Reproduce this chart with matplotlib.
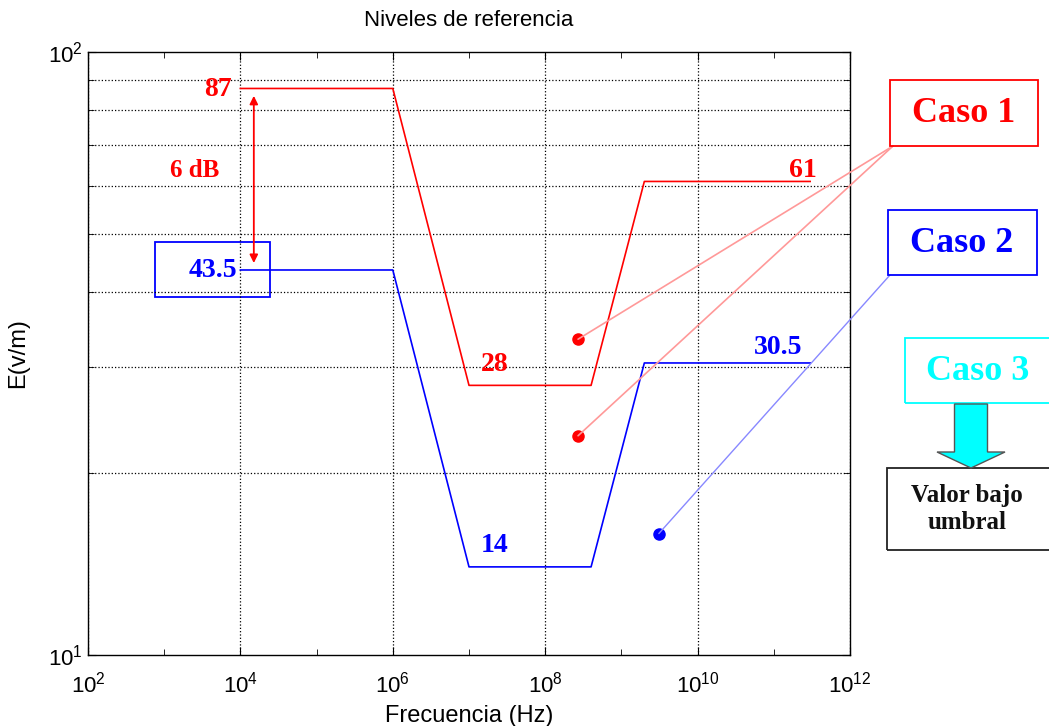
import matplotlib
matplotlib.use("Agg")
import matplotlib.pyplot as plt
from matplotlib.patches import Rectangle, FancyArrow
import matplotlib.ticker as mticker

plt.rcParams["font.family"] = ["Liberation Sans", "DejaVu Sans"]
plt.rcParams["mathtext.fontset"] = "custom"
plt.rcParams["mathtext.rm"] = "Liberation Sans"
plt.rcParams["mathtext.it"] = "Liberation Sans"

# Data
freq = [1e4, 1e6, 1e7, 4e8, 2e9, 3e11]
caso1_level = [87, 87, 28, 28, 61, 61]
caso2_level = [43.5, 43.5, 14, 14, 30.5, 30.5]
red_pts_x = [2.7e8, 2.7e8]
red_pts_y = [33.4, 23.1]
blue_pts_x = [3.1e9]
blue_pts_y = [15.9]
label_texts = ["87", "6 dB", "43.5", "28", "14", "30.5", "61"]

W, H = 1049, 726
fig = plt.figure(figsize=(W / 100, H / 100), dpi=100)
ax = fig.add_axes([88 / W, (H - 655) / H, (850 - 88) / W, (655 - 52) / H])

ax.plot(freq, caso1_level, color="red", lw=1.2)
ax.plot(freq, caso2_level, color="blue", lw=1.2)
ax.plot(red_pts_x, red_pts_y, "o", color="red", ms=8)
ax.plot(blue_pts_x, blue_pts_y, "o", color="blue", ms=8)

ax.set_xscale("log")
ax.set_yscale("log")
ax.set_xlim(1e2, 1e12)
ax.set_ylim(10, 100)
ax.set_xticks([10.0 ** k for k in range(2, 13, 2)])
ax.set_xticklabels([r"$10^{%d}$" % k for k in range(2, 13, 2)])
ax.set_xticks([10.0 ** k for k in range(3, 12, 2)], minor=True)
ax.xaxis.set_minor_formatter(mticker.NullFormatter())
ax.set_yticks([10, 100])
ax.set_yticklabels([r"$10^{1}$", r"$10^{2}$"])
ax.set_yticks([20, 30, 40, 50, 60, 70, 80, 90], minor=True)
ax.yaxis.set_minor_formatter(mticker.NullFormatter())
ax.tick_params(which="both", direction="in", top=True, right=True, labelsize=16, colors="black")
ax.tick_params(axis="x", which="major", pad=12)
ax.tick_params(which="major", length=6)
ax.tick_params(which="minor", length=4)
ax.grid(True, axis="x", which="major", color="black", linestyle=":", lw=0.9)
ax.grid(True, axis="y", which="minor", color="black", linestyle=":", lw=0.9)
for s in ax.spines.values():
    s.set_linewidth(1.0)

ax.set_title("Niveles de referencia", fontsize=16, pad=19)
ax.set_xlabel("Frecuencia (Hz)", fontsize=17, labelpad=5)
ax.set_ylabel("E(v/m)", fontsize=17, labelpad=14)

serif = dict(family="Liberation Serif", weight="bold")
ax.text(7.8e3, 86.5, label_texts[0], color="red", fontsize=20, ha="right", va="center", **serif)
ax.text(2.5e3, 63.5, label_texts[1], color="red", fontsize=18, ha="center", va="center", **serif)
ax.text(4.3e3, 43.4, label_texts[2], color="blue", fontsize=20, ha="center", va="center", **serif)
ax.text(2.2e7, 30.3, label_texts[3], color="red", fontsize=20, ha="center", va="center", **serif)
ax.text(2.2e7, 15.2, label_texts[4], color="blue", fontsize=20, ha="center", va="center", **serif)
ax.text(1.15e11, 32.3, label_texts[5], color="blue", fontsize=20, ha="center", va="center", **serif)
ax.text(2.4e11, 63.7, label_texts[6], color="red", fontsize=20, ha="center", va="center", **serif)

# box around 43.5
ax.add_patch(Rectangle((10 ** 2.88, 39.3), 10 ** 4.39 - 10 ** 2.88, 48.4 - 39.3,
                       fill=False, edgecolor="blue", lw=1.3, clip_on=False))

# 6 dB arrow
ax.annotate("", xy=(1.5e4, 85.5), xytext=(1.5e4, 44.2),
            arrowprops=dict(arrowstyle="<|-|>", color="red", lw=1.3, mutation_scale=12))

# right-hand boxes (figure pixels)
def fig_box(x0, y0, x1, y1, color, lw=1.3):
    fig.patches.append(Rectangle((x0 / W, 1 - y1 / H), (x1 - x0) / W, (y1 - y0) / H,
                                 transform=fig.transFigure, fill=False, edgecolor=color, lw=lw))

fig_box(890, 80, 1038, 146, "red")
fig.text(964 / W, 1 - 113 / H, "Caso 1", color="red", fontsize=26, ha="center", va="center", **serif)
fig_box(888, 210, 1037, 275, "blue")
fig.text(962 / W, 1 - 243 / H, "Caso 2", color="blue", fontsize=26, ha="center", va="center", **serif)
fig_box(905, 338, 1052, 403, "cyan")
fig.text(978 / W, 1 - 371 / H, "Caso 3", color="cyan", fontsize=26, ha="center", va="center", **serif)
fig_box(887, 468, 1052, 550, "#222222")
fig.text(967 / W, 1 - 509 / H, "Valor bajo\numbral", color="#111111", fontsize=18, ha="center",
         va="center", linespacing=1.25, **serif)

# cyan arrow
fig.patches.append(FancyArrow(971 / W, 1 - 404 / H, 0, -(64 / H), width=33 / W,
                              head_width=68 / W, head_length=16 / H, length_includes_head=True,
                              transform=fig.transFigure, facecolor="cyan", edgecolor="#555555", lw=1))

# connector lines from points to case boxes
for x, y in zip(red_pts_x, red_pts_y):
    ax.annotate("", xy=(x, y), xycoords="data", xytext=(893, H - 146), textcoords="figure pixels",
                arrowprops=dict(arrowstyle="-", color="#ff9999", lw=1.2, shrinkA=0, shrinkB=0))
for x, y in zip(blue_pts_x, blue_pts_y):
    ax.annotate("", xy=(x, y), xycoords="data", xytext=(890, H - 275), textcoords="figure pixels",
                arrowprops=dict(arrowstyle="-", color="#8888ff", lw=1.0, shrinkA=0, shrinkB=0))

fig.savefig("out.png", dpi=100)
